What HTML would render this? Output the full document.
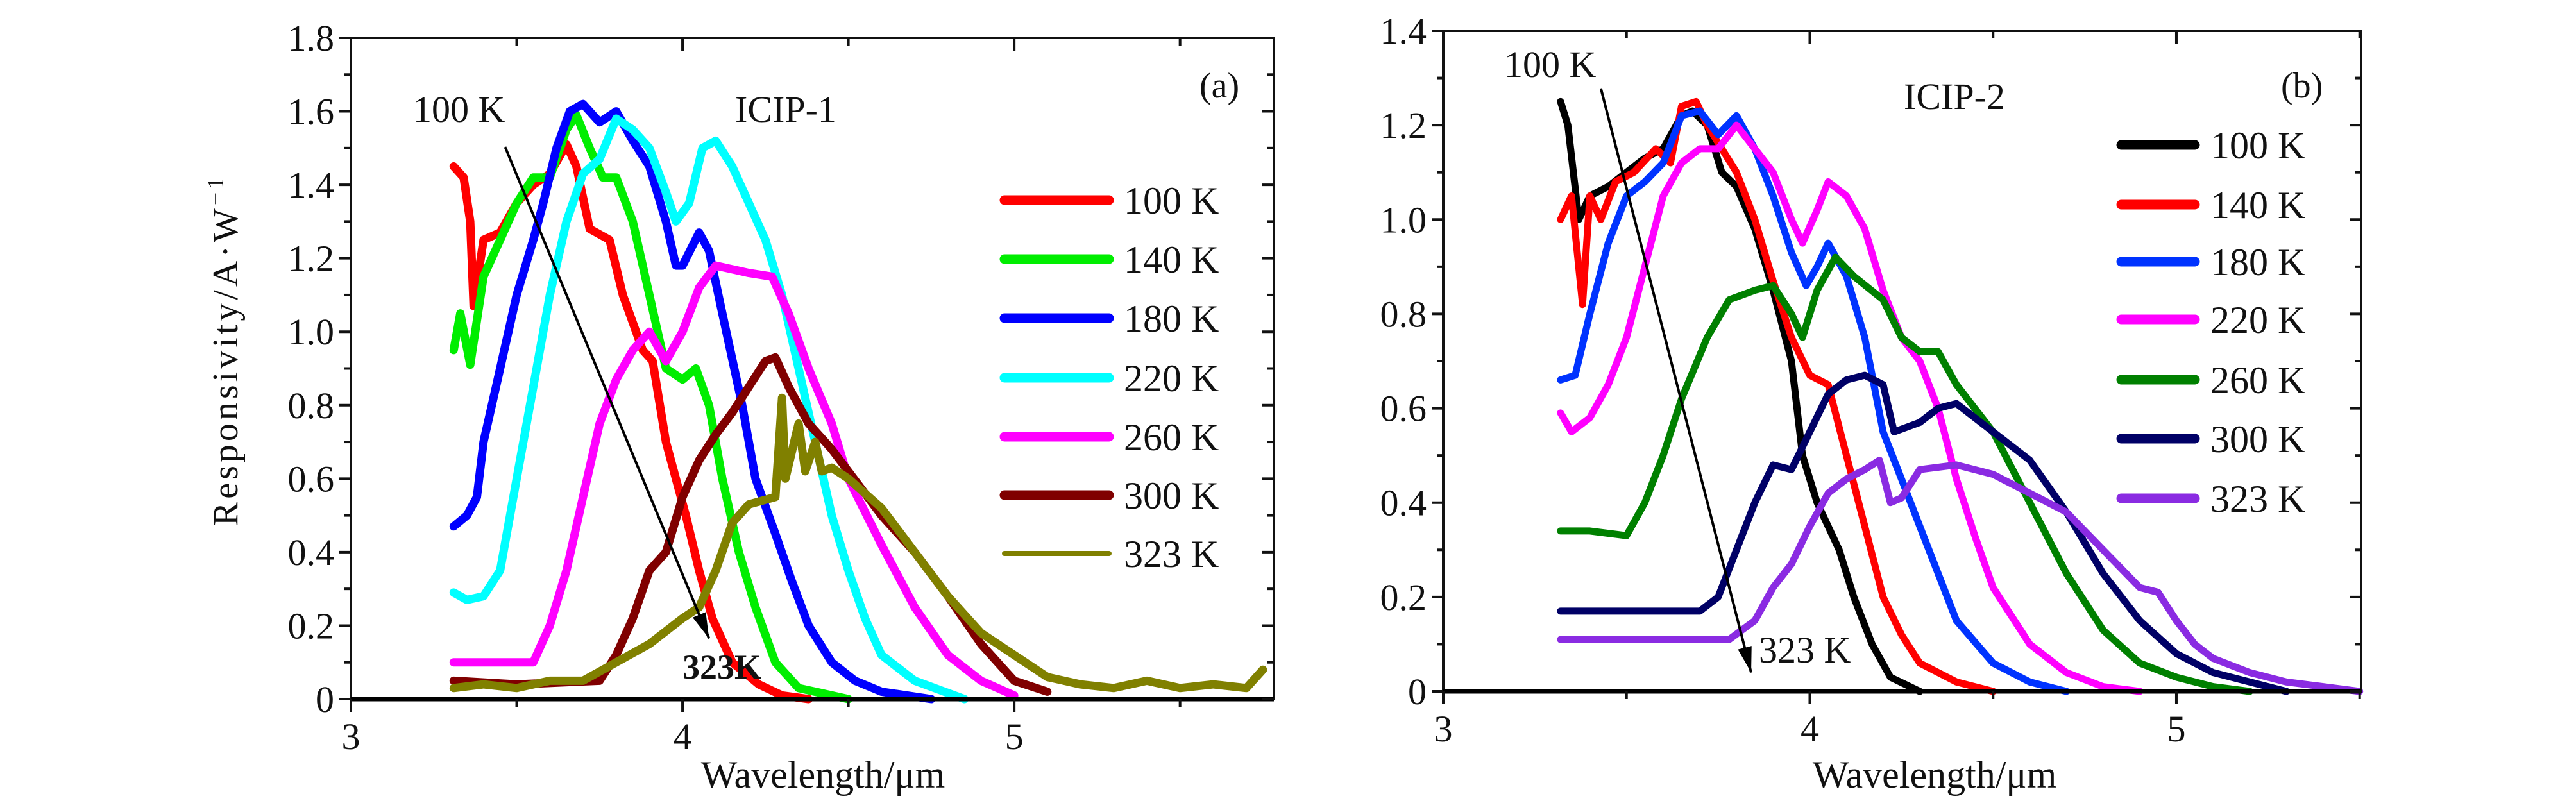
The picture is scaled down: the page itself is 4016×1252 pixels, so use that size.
<!DOCTYPE html>
<html><head><meta charset="utf-8">
<style>
html,body{margin:0;padding:0;background:#fff;}
svg{display:block;}
text{font-family:"Liberation Serif",serif;fill:#111;}
</style></head>
<body>
<svg id="chart" xmlns="http://www.w3.org/2000/svg" width="4016" height="1252" viewBox="0 0 4016 1252">
<rect x="0" y="0" width="4016" height="1252" fill="#fff"/>
</svg>
<script>
// ---------- Panel (a) ICIP-1 data ----------
const aLabels = ["100 K","140 K","180 K","220 K","260 K","300 K","323 K"];
const aColors = ["#ff0000","#00ee00","#0000ff","#00ffff","#ff00ff","#800000","#808000"];
const aX100 = [3.31,3.34,3.36,3.37,3.4,3.45,3.5,3.55,3.6,3.65,3.68,3.72,3.78,3.82,3.88,3.91,3.95,4.01,4.05,4.09,4.15,4.23,4.3,4.38];
const aY100 = [1.45,1.42,1.3,1.07,1.25,1.27,1.35,1.4,1.43,1.51,1.45,1.28,1.25,1.1,0.95,0.92,0.7,0.5,0.35,0.22,0.1,0.04,0.01,0];
const aX140 = [3.31,3.33,3.36,3.4,3.45,3.5,3.55,3.6,3.65,3.68,3.72,3.76,3.8,3.85,3.9,3.95,4.0,4.04,4.08,4.12,4.17,4.22,4.28,4.35,4.5];
const aY140 = [0.95,1.05,0.91,1.15,1.25,1.35,1.42,1.42,1.55,1.59,1.5,1.42,1.42,1.3,1.1,0.9,0.87,0.9,0.8,0.6,0.4,0.25,0.1,0.03,0];
const aX180 = [3.31,3.35,3.38,3.4,3.45,3.5,3.55,3.58,3.62,3.66,3.7,3.75,3.8,3.85,3.9,3.95,3.98,4.0,4.05,4.08,4.12,4.18,4.22,4.28,4.33,4.38,4.45,4.52,4.6,4.75];
const aY180 = [0.47,0.5,0.55,0.7,0.9,1.1,1.25,1.35,1.5,1.6,1.62,1.57,1.6,1.52,1.45,1.3,1.18,1.18,1.27,1.22,1.05,0.8,0.6,0.45,0.32,0.2,0.1,0.05,0.02,0];
const aX220 = [3.31,3.35,3.4,3.45,3.5,3.55,3.6,3.65,3.7,3.75,3.8,3.85,3.9,3.95,3.98,4.02,4.06,4.1,4.15,4.2,4.25,4.3,4.35,4.4,4.45,4.5,4.55,4.6,4.7,4.85];
const aY220 = [0.29,0.27,0.28,0.35,0.6,0.85,1.1,1.3,1.43,1.47,1.58,1.55,1.5,1.38,1.3,1.35,1.5,1.52,1.45,1.35,1.25,1.1,0.9,0.7,0.5,0.35,0.22,0.12,0.05,0];
const aX260 = [3.31,3.45,3.55,3.6,3.65,3.7,3.75,3.8,3.85,3.9,3.95,4.0,4.05,4.1,4.2,4.27,4.32,4.38,4.45,4.5,4.6,4.7,4.8,4.9,5.0];
const aY260 = [0.1,0.1,0.1,0.2,0.35,0.55,0.75,0.87,0.95,1.0,0.92,1.0,1.12,1.18,1.16,1.15,1.05,0.9,0.75,0.6,0.42,0.25,0.12,0.05,0.01];
const aX300 = [3.31,3.5,3.75,3.8,3.85,3.9,3.95,4.0,4.05,4.1,4.15,4.2,4.25,4.28,4.32,4.38,4.45,4.5,4.6,4.7,4.8,4.9,5.0,5.1];
const aY300 = [0.05,0.04,0.05,0.12,0.22,0.35,0.4,0.55,0.65,0.72,0.78,0.85,0.92,0.93,0.85,0.75,0.68,0.62,0.5,0.4,0.28,0.15,0.05,0.02];
const aX323 = [3.31,3.4,3.5,3.6,3.7,3.8,3.9,4.0,4.05,4.1,4.15,4.2,4.28,4.3,4.31,4.35,4.37,4.4,4.42,4.45,4.5,4.6,4.7,4.8,4.9,5.0,5.1,5.2,5.3,5.4,5.5,5.6,5.7,5.75];
const aY323 = [0.03,0.04,0.03,0.05,0.05,0.1,0.15,0.22,0.25,0.35,0.48,0.53,0.55,0.82,0.6,0.75,0.62,0.7,0.62,0.63,0.6,0.52,0.4,0.28,0.18,0.12,0.06,0.04,0.03,0.05,0.03,0.04,0.03,0.08];

// ---------- Panel (b) ICIP-2 data ----------
const bLabels = ["100 K","140 K","180 K","220 K","260 K","300 K","323 K"];
const bColors = ["#000000","#ff0000","#0033ff","#ff00ff","#008000","#000066","#8a2be2"];
const bX100 = [3.32,3.34,3.37,3.4,3.45,3.5,3.55,3.6,3.65,3.68,3.72,3.76,3.8,3.85,3.9,3.95,3.98,4.02,4.08,4.12,4.17,4.22,4.3];
const bY100 = [1.25,1.2,1.0,1.05,1.07,1.1,1.13,1.15,1.22,1.23,1.2,1.1,1.07,0.98,0.85,0.7,0.5,0.4,0.3,0.2,0.1,0.03,0];
const bX140 = [3.32,3.35,3.38,3.4,3.43,3.47,3.52,3.58,3.62,3.65,3.69,3.72,3.76,3.8,3.85,3.9,3.95,4.0,4.05,4.1,4.15,4.2,4.25,4.3,4.4,4.5];
const bY140 = [1.0,1.05,0.82,1.05,1.0,1.08,1.1,1.15,1.12,1.24,1.25,1.2,1.15,1.1,1.0,0.87,0.75,0.67,0.65,0.5,0.35,0.2,0.12,0.06,0.02,0];
const bX180 = [3.32,3.36,3.4,3.45,3.5,3.55,3.6,3.65,3.7,3.75,3.8,3.85,3.9,3.95,3.99,4.02,4.05,4.1,4.15,4.2,4.25,4.3,4.35,4.4,4.5,4.6,4.7];
const bY180 = [0.66,0.67,0.8,0.95,1.05,1.08,1.12,1.22,1.23,1.18,1.22,1.15,1.05,0.93,0.86,0.9,0.95,0.88,0.75,0.55,0.45,0.35,0.25,0.15,0.06,0.02,0];
const bX220 = [3.32,3.35,3.4,3.45,3.5,3.55,3.6,3.65,3.7,3.75,3.8,3.85,3.9,3.95,3.98,4.02,4.05,4.1,4.15,4.2,4.25,4.3,4.35,4.4,4.45,4.5,4.6,4.7,4.8,4.9];
const bY220 = [0.59,0.55,0.58,0.65,0.75,0.9,1.05,1.12,1.15,1.15,1.2,1.15,1.1,1.0,0.95,1.02,1.08,1.05,0.98,0.85,0.75,0.7,0.6,0.45,0.33,0.22,0.1,0.04,0.01,0];
const bX260 = [3.32,3.4,3.5,3.55,3.6,3.65,3.72,3.78,3.85,3.9,3.95,3.98,4.02,4.07,4.12,4.2,4.25,4.3,4.35,4.4,4.5,4.6,4.7,4.8,4.9,5.0,5.1,5.2];
const bY260 = [0.34,0.34,0.33,0.4,0.5,0.62,0.75,0.83,0.85,0.86,0.8,0.75,0.85,0.92,0.88,0.83,0.75,0.72,0.72,0.65,0.55,0.4,0.25,0.13,0.06,0.03,0.01,0];
const bX300 = [3.32,3.4,3.5,3.7,3.75,3.8,3.85,3.9,3.95,4.0,4.05,4.1,4.15,4.2,4.23,4.3,4.35,4.4,4.5,4.6,4.7,4.8,4.9,5.0,5.1,5.2,5.3];
const bY300 = [0.17,0.17,0.17,0.17,0.2,0.3,0.4,0.48,0.47,0.55,0.63,0.66,0.67,0.65,0.55,0.57,0.6,0.61,0.55,0.49,0.38,0.25,0.15,0.08,0.04,0.02,0];
const bX323 = [3.32,3.5,3.78,3.85,3.9,3.95,4.0,4.05,4.1,4.15,4.19,4.22,4.25,4.3,4.4,4.5,4.6,4.7,4.8,4.9,4.95,5.0,5.05,5.1,5.2,5.3,5.4,5.5];
const bY323 = [0.11,0.11,0.11,0.15,0.22,0.27,0.35,0.42,0.45,0.47,0.49,0.4,0.41,0.47,0.48,0.46,0.42,0.38,0.3,0.22,0.21,0.15,0.1,0.07,0.04,0.02,0.01,0];

const aSeries = [[aX100,aY100],[aX140,aY140],[aX180,aY180],[aX220,aY220],[aX260,aY260],[aX300,aY300],[aX323,aY323]];
const bSeries = [[bX100,bY100],[bX140,bY140],[bX180,bY180],[bX220,bY220],[bX260,bY260],[bX300,bY300],[bX323,bY323]];
const aYTicks = [0,0.2,0.4,0.6,0.8,1.0,1.2,1.4,1.6,1.8];
const aYTickLabels = ["0","0.2","0.4","0.6","0.8","1.0","1.2","1.4","1.6","1.8"];
const bYTicks = [0,0.2,0.4,0.6,0.8,1.0,1.2,1.4];
const bYTickLabels = ["0","0.2","0.4","0.6","0.8","1.0","1.2","1.4"];
const xTicks = [3,4,5];
const xTickLabels = ["3","4","5"];

const NS = "http://www.w3.org/2000/svg";
const svg = document.getElementById("chart");
function mk(tag, attrs, parent){
  const e = document.createElementNS(NS, tag);
  for (const k in attrs) e.setAttribute(k, attrs[k]);
  (parent||svg).appendChild(e);
  return e;
}

function panel(cfg){
  const g = mk("g", {});
  
  
  const sx = v => cfg.x0 + (v - cfg.xmin) / (cfg.xmax - cfg.xmin) * (cfg.x1 - cfg.x0);
  const sy = v => cfg.y0 - (v - 0) / cfg.ymax * (cfg.y0 - cfg.y1);
  cfg.series.forEach((s, i) => {
    const d = s[0].map((x, j) => (j ? "L" : "M") + sx(x).toFixed(1) + " " + sy(s[1][j]).toFixed(1)).join(" ");
    const p = mk("path", {d: d, fill: "none", stroke: cfg.colors[i], "stroke-width": cfg.lw, "stroke-linejoin": "round", "stroke-linecap": "round"}, g);
    
    
  });
  const fr = mk("rect", {x: cfg.x0, y: cfg.y1, width: cfg.x1 - cfg.x0, height: cfg.y0 - cfg.y1, fill: "none", stroke: "#111", "stroke-width": 4}, g);
  
  
  mk("line", {x1: cfg.x0, y1: cfg.y0, x2: cfg.x1, y2: cfg.y0, stroke: "#000", "stroke-width": 7}, g);
  for (let v = cfg.xmin; v <= cfg.xmax + 1e-6; v += 0.5){
    const X = sx(v), major = Math.abs(v - Math.round(v)) < 1e-6;
    const L = major ? 20 : 12;
    mk("line", {x1: X, y1: cfg.y0, x2: X, y2: cfg.y0 + L, stroke: "#111", "stroke-width": 4}, g);
    mk("line", {x1: X, y1: cfg.y1, x2: X, y2: cfg.y1 + L, stroke: "#111", "stroke-width": 4}, g);
  }
  xTicks.forEach((v, i) => {
    const t = mk("text", {x: sx(v), y: cfg.y0 + 78, "font-size": 58, "text-anchor": "middle"}, g);
    t.textContent = xTickLabels[i];
    
    
  });
  for (let v = 0; v <= cfg.ymax + 1e-6; v += 0.1){
    const Y = sy(v), major = Math.round(v * 10) % 2 === 0;
    const L = major ? 18 : 10;
    mk("line", {x1: cfg.x0 - L, y1: Y, x2: cfg.x0, y2: Y, stroke: "#111", "stroke-width": 4}, g);
    mk("line", {x1: cfg.x1, y1: Y, x2: cfg.x1 - L, y2: Y, stroke: "#111", "stroke-width": 4}, g);
  }
  cfg.yTicks.forEach((v, i) => {
    const t = mk("text", {x: cfg.x0 - 26, y: sy(v) + 20, "font-size": 58, "text-anchor": "end"}, g);
    t.textContent = cfg.yTickLabels[i];
    
    
  });
  const xt = mk("text", {x: cfg.xtX, y: 1228, "font-size": 60, "text-anchor": "middle"}, g);
  xt.textContent = "Wavelength/μm";
  
  
  cfg.labels.forEach((lab, i) => {
    const Y = cfg.legY[i];
    const l = mk("line", {x1: cfg.legX0, y1: Y, x2: cfg.legX1, y2: Y, stroke: cfg.colors[i], "stroke-width": (cfg.thinLast && i === 6) ? 8 : 15, "stroke-linecap": "round"}, g);
    
    
    const t = mk("text", {x: cfg.legTx, y: Y + 21, "font-size": 60}, g);
    t.textContent = lab;
    
    
  });
  const ax1 = sx(cfg.arrow[0]), ay1 = sy(cfg.arrow[1]), ax2 = sx(cfg.arrow[2]), ay2 = sy(cfg.arrow[3]);
  const ar = mk("line", {x1: ax1, y1: ay1, x2: ax2, y2: ay2, stroke: "#000", "stroke-width": 4}, g);
  
  
  const ang = Math.atan2(ay2 - ay1, ax2 - ax1);
  const hl = 40, hw = 11;
  const bx = ax2 - hl * Math.cos(ang), by = ay2 - hl * Math.sin(ang);
  mk("polygon", {points: `${ax2},${ay2} ${bx - hw*Math.sin(ang)},${by + hw*Math.cos(ang)} ${bx + hw*Math.sin(ang)},${by - hw*Math.cos(ang)}`, fill: "#000"}, g);
  return g;
}

panel({name: "panel-a", x0: 547, x1: 1986, y0: 1090, y1: 59, xmin: 3, xmax: 5.783, ymax: 1.8,
  series: aSeries, colors: aColors, labels: aLabels, lw: 13, yTicks: aYTicks, yTickLabels: aYTickLabels,
  xtX: 1283, legX0: 1566, legX1: 1729, legTx: 1752, legY: [312,404,496,589,681,772,863], thinLast: true,
  arrow: [3.465, 1.503, 4.08, 0.165]});
panel({name: "panel-b", x0: 2250, x1: 3681, y0: 1078, y1: 48, xmin: 3, xmax: 5.504, ymax: 1.4,
  series: bSeries, colors: bColors, labels: bLabels, lw: 11, yTicks: bYTicks, yTickLabels: bYTickLabels,
  xtX: 3016, legX0: 3307, legX1: 3422, legTx: 3446, legY: [226,319,408,498,592,684,777], thinLast: false,
  arrow: [3.43, 1.278, 3.84, 0.04]});

function txt(x, y, s, size, name, extra){
  const t = mk("text", Object.assign({x: x, y: y, "font-size": size}, extra || {}));
  t.textContent = s;
  
  
}
txt(644, 190, "100 K", 58, "annotation-100k-a");
txt(1146, 190, "ICIP-1", 58, "panel-title-a");
txt(1870, 152, "(a)", 56, "panel-label-a");
txt(1064, 1058, "323K", 54, "annotation-323k-a", {"font-family": "Liberation Sans, sans-serif", "font-weight": "bold"});
txt(2345, 120, "100 K", 58, "annotation-100k-b");
txt(2968, 170, "ICIP-2", 58, "panel-title-b");
txt(3556, 152, "(b)", 56, "panel-label-b");
txt(2742, 1033, "323 K", 58, "annotation-323k-b");
const yt = mk("text", {x: 0, y: 0, "font-size": 56, "text-anchor": "middle", "letter-spacing": "5", transform: "translate(370,546) rotate(-90)"});
yt.innerHTML = 'Responsivity/A·W<tspan dy="-22" font-size="36">−1</tspan>';


</script>
</body></html>
